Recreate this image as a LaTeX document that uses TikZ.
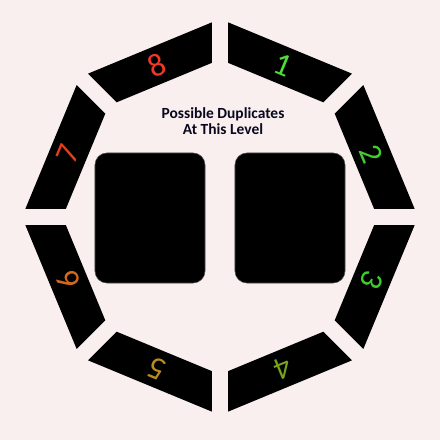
\documentclass[tikz,border=0pt]{standalone}
\usepackage{fontspec}
\setmainfont{Carlito}
\usepackage{tikz}
\usetikzlibrary{calc}
\definecolor{bgpink}{RGB}{249,239,239}
\definecolor{titleblue}{RGB}{8,8,30}
\definecolor{numone}{RGB}{78,222,58}
\definecolor{numtwo}{RGB}{64,206,46}
\definecolor{numthree}{RGB}{62,204,44}
\definecolor{numfour}{RGB}{120,162,30}
\definecolor{numfive}{RGB}{186,140,30}
\definecolor{numsix}{RGB}{210,104,30}
\definecolor{numseven}{RGB}{226,62,28}
\definecolor{numeight}{RGB}{240,56,36}

\begin{document}
\begin{tikzpicture}[
        x=0.025cm, y=0.025cm,
        seg/.style={fill=black},
        num/.style={font=\fontsize{23}{23}\selectfont, inner sep=0pt},
        panel/.style={rectangle, fill=black, draw=black!70, rounded corners=0.3cm, minimum width=2.75cm, minimum height=3.25cm, inner sep=0pt},
        title/.style={font=\bfseries\fontsize{11}{11.3}\selectfont, text=titleblue, align=center, inner sep=0pt}
    ]
    \fill[bgpink] (-220,-223) rectangle (220,217);
    % ring of eight segments, numbered clockwise from the top
    \foreach \k/\col in {1/numone,2/numtwo,3/numthree,4/numfour,5/numfive,6/numsix,7/numseven,8/numeight}{
        \pgfmathsetmacro{\aa}{90-45*(\k-1)}
        \pgfmathsetmacro{\ab}{90-45*\k}
        \fill[seg] ($(\aa:198)!2.17mm!(\ab:198)$) -- ($(\ab:198)!2.17mm!(\aa:198)$) -- ($(\ab:157.5)!2.17mm!(\aa:157.5)$) -- ($(\aa:157.5)!2.17mm!(\ab:157.5)$) -- cycle;
        \node[num, text=\col, rotate={22.5-45*\k}] (n\k) at ({112.5-45*\k}:164) {\k};
    }
    \node[title] (level) at (3,95.5) {Possible Duplicates\\At This Level};
    \node[panel] (leftpanel) at (-70,-1) {};
    \node[panel] (rightpanel) at (70,-1) {};
\end{tikzpicture}
\end{document}
